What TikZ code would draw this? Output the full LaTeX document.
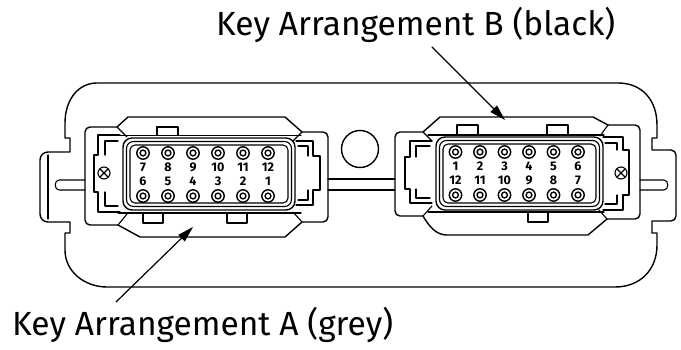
\documentclass[tikz,border=0pt]{standalone}
\usepackage{fontspec}
\setmainfont{Fira Sans}
\usetikzlibrary{arrows.meta}
\begin{document}
\begin{tikzpicture}[x=1pt,y=-1pt,line join=round,line cap=round,
  outline/.style={line width=1.4pt},
  detail/.style={line width=1.1pt},
  pinring/.style={line width=1.4pt},
  callout/.style={line width=1.2pt,-{Triangle[length=16pt,width=9pt]}},
  bigtext/.style={font=\fontsize{33.5}{33.5}\selectfont, inner sep=0pt, anchor=base west},
  pinnum/.style={font=\fontseries{sb}\fontsize{12.5}{12.5}\selectfont, inner sep=0pt, anchor=base}]
\useasboundingbox (0,0) rectangle (681,350);

% ---------------- outer housing ----------------
\draw[outline] (97,83) -- (618,83) .. controls (642,83) and (657,100) .. (657,125)
  -- (657,138) -- (652,138) -- (652,150) -- (671,150) to[out=0,in=90] (676,155)
  -- (676,216) to[out=-90,in=0] (671,221) -- (652,221) -- (652,233) -- (657,233)
  -- (657,245) .. controls (657,270) and (640,287) .. (615,287) -- (107,287)
  .. controls (85,287) and (65,272) .. (65,250) -- (65,233) -- (70,233) -- (70,222)
  -- (48,222) to[out=180,in=-90] (40,214) -- (40,160) to[out=90,in=180] (48,152)
  -- (70,152) -- (70,138) -- (65,138) -- (65,123) .. controls (65,100) and (78,83) .. (97,83) -- cycle;
\draw[detail] (48,155) -- (48,219);
% shaft lines
\draw[detail] (85,180) -- (59,180) .. controls (54,180) and (54,190) .. (59,190) -- (85,190);
\draw[detail] (328,179) -- (395,179) (328,190) -- (395,190);
\draw[detail] (640,180) -- (664,180) .. controls (669,180) and (669,190) .. (664,190) -- (640,190);
% round hole
\draw[outline] (360,149) circle[radius=18.5];

% ---------------- connector A ----------------
\draw[outline] (117,127) -- (128,117) -- (285,117) -- (302,132);
\draw[outline] (118,225) -- (140,237) -- (285,237) -- (302,222);
\draw[detail] (117,127) -- (127,137) (118,225) -- (127,214) (302,132) -- (293,141) (302,222) -- (293,212);
\draw[outline] (117,127) -- (90,127) to[out=180,in=90] (85,132) -- (85,220) to[out=-90,in=180] (90,225) -- (118,225);
\draw[outline] (302,132) -- (323,132) to[out=0,in=90] (328,137) -- (328,217) to[out=-90,in=0] (323,222) -- (302,222);
\draw[detail] (120,135) -- (98,135) -- (98,155) -- (94,155) -- (94,192) -- (98,192) -- (98,212) -- (120,212);
\draw[detail] (118,141) -- (105,141) -- (105,155) (105,192) -- (105,206) -- (118,206);
\draw[detail] (104,173) circle[radius=6] (99.8,168.8) -- (108.2,177.2) (99.8,177.2) -- (108.2,168.8);
\draw[detail] (296,141) -- (313,141) -- (313,156) -- (320,156) -- (320,190) -- (313,190) -- (313,205) -- (296,205);
\draw[detail] (298,146) -- (308,146) -- (308,156) (308,190) -- (308,200) -- (298,200);
\draw[detail] (118,135.5) -- (301,135.5) (118,213) -- (301,213);
\draw[detail] (157,135.5) -- (157,127) -- (178,127) -- (178,135.5);
\draw[detail] (143,213) -- (143,223) -- (163,223) -- (163,213);
\draw[detail] (227,213) -- (227,223) -- (247,223) -- (247,213);
\draw[outline,rounded corners=9] (123,138) rectangle (295,210);
\draw[detail,rounded corners=7] (126.5,141.5) rectangle (291.5,206.5);
\draw[detail,rounded corners=5] (130,145) rectangle (288,203);
\foreach \lab [count=\i from 0] in {7,8,9,10,11,12} {
  \draw[pinring] (143+25*\i,153) circle[radius=6.2] (143+25*\i,153) circle[radius=2.9];
  \node[pinnum] (a\lab) at (143+25*\i,172) {\lab};
}
\foreach \lab [count=\i from 0] in {6,5,4,3,2,1} {
  \draw[pinring] (143+25*\i,196) circle[radius=6.2] (143+25*\i,196) circle[radius=2.9];
  \node[pinnum] (a\lab) at (143+25*\i,186) {\lab};
}

% ---------------- connector B ----------------
\draw[outline] (423,132) -- (440,117) -- (593,117) -- (608,125);
\draw[outline] (423,216) .. controls (430,228) and (437,235) .. (447,235) -- (588,235) -- (607,219);
\draw[detail] (423,132) -- (432,141) (423,216) -- (432,206) (608,125) -- (600,136) (607,219) -- (599,210);
\draw[outline] (423,132) -- (400,132) to[out=180,in=90] (395,137) -- (395,211) to[out=-90,in=180] (400,216) -- (423,216);
\draw[outline] (608,125) -- (635,125) to[out=0,in=90] (640,130) -- (640,214) to[out=-90,in=0] (635,219) -- (607,219);
\draw[detail] (432,141) -- (410,141) -- (410,157) -- (405,157) -- (405,189) -- (410,189) -- (410,203) -- (432,203);
\draw[detail] (430,146) -- (416,146) -- (416,157) (416,189) -- (416,198) -- (430,198);
\draw[detail] (603,137) -- (623,137) -- (623,150) -- (629,150) -- (629,195) -- (623,195) -- (623,210) -- (603,210);
\draw[detail] (605,143) -- (617,143) -- (617,150) (617,195) -- (617,204) -- (605,204);
\draw[detail] (621,173) circle[radius=6] (616.8,168.8) -- (625.2,177.2) (616.8,177.2) -- (625.2,168.8);
\draw[detail] (428,135) -- (604,135) (428,212) -- (604,212);
\draw[detail] (457,135) -- (457,125) -- (478,125) -- (478,135);
\draw[detail] (547,135) -- (547,125) -- (568,125) -- (568,135);
\draw[detail] (528,212) -- (528,222) -- (548,222) -- (548,212);
\draw[outline,rounded corners=9] (436,137) rectangle (603,210);
\draw[detail,rounded corners=7] (439.5,140.5) rectangle (599.5,206.5);
\draw[detail,rounded corners=5] (443,144) rectangle (596,203);
\foreach \lab [count=\i from 0] in {1,2,3,4,5,6} {
  \draw[pinring] (455.5+24.5*\i,152) circle[radius=6.2] (455.5+24.5*\i,152) circle[radius=2.9];
  \node[pinnum] (b\lab) at (455.5+24.5*\i,171) {\lab};
}
\foreach \lab [count=\i from 0] in {12,11,10,9,8,7} {
  \draw[pinring] (455.5+24.5*\i,195) circle[radius=6.2] (455.5+24.5*\i,195) circle[radius=2.9];
  \node[pinnum] (b\lab) at (455.5+24.5*\i,185) {\lab};
}

% ---------------- labels and callouts ----------------
\node[bigtext] (labelB) at (216,36) {Key Arrangement B (black)};
\node[bigtext] (labelA) at (12,335) {Key Arrangement A (grey)};
\coordinate (startB) at (432,47);
\coordinate (tipB) at (505,120);
\coordinate (startA) at (116,302);
\coordinate (tipA) at (193,227);
\draw[callout] (startB) -- (tipB);
\draw[callout] (startA) -- (tipA);
\end{tikzpicture}
\end{document}
